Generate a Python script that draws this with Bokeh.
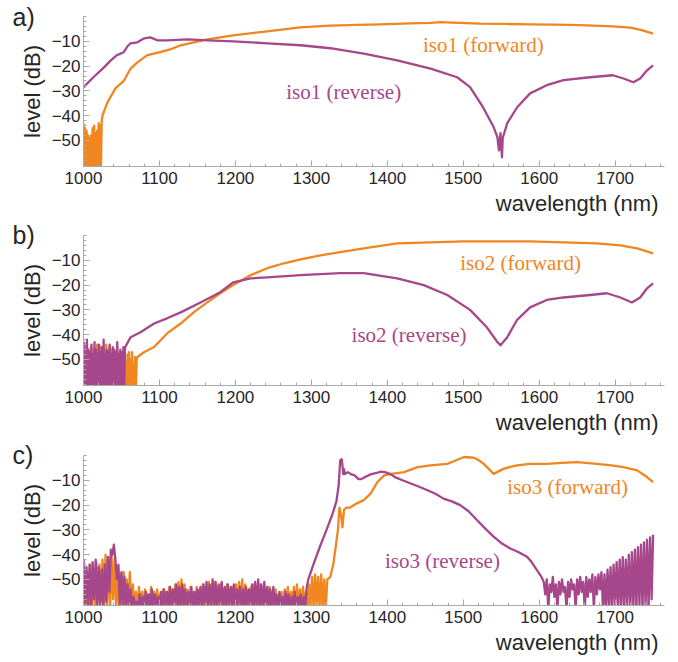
from bokeh.plotting import figure
from bokeh.layouts import column
from bokeh.models import FixedTicker, CustomJSTickFormatter, Label, Range1d, Title
from bokeh.embed import file_html
from bokeh.resources import INLINE

ORANGE = "#EF861F"
PURPLE = "#A6468B"
AXIS_GRAY = "#A9A9A9"
TEXT_DARK = "#262626"

X_TICKS = [1000, 1100, 1200, 1300, 1400, 1500, 1600, 1700]
Y_TICKS = [-50, -40, -30, -20, -10]

# ---------------- iso1 ----------------
iso1_fwd_lam = list(range(1000, 1025)) + [
    1025, 1031, 1042, 1053, 1062, 1071, 1084, 1101, 1114, 1128,
    1145, 1163, 1197, 1242, 1285, 1325, 1360, 1391, 1430, 1457,
    1470, 1495, 1522, 1555, 1588, 1620, 1654, 1697, 1720, 1735, 1750]
iso1_fwd_db = [
    -43, -62, -45, -61, -46, -62, -48, -60, -49, -62,
    -48, -61, -45, -62, -44, -60, -47, -62, -46, -61,
    -43, -62, -44, -60, -42,
    -40, -35, -29, -26, -21, -18.5, -15.6, -14.4, -13.3, -11.6,
    -10.4, -9.2, -7.6, -6, -4.4, -3.7, -3.4, -3.2, -2.8, -2.6,
    -2.3, -2.6, -2.9, -3.0, -3.2, -3.3, -3.5, -4, -4.5, -5.5, -6.9]

iso1_rev_lam = [
    1000, 1013, 1027, 1036, 1044, 1053, 1058, 1062, 1071, 1080,
    1088, 1097, 1110, 1137, 1163, 1197, 1242, 1286, 1325, 1369,
    1413, 1457, 1492, 1509, 1526, 1540, 1545, 1547, 1549, 1551,
    1552, 1558, 1571, 1588, 1610, 1632, 1667, 1697, 1711, 1724,
    1733, 1742, 1750]
iso1_rev_db = [
    -28.5, -24.5, -20.5, -17.7, -15.6, -14.4, -12, -10.8, -10.4, -8.8,
    -8.4, -9.6, -9.6, -9.2, -9.6, -10, -10.8, -11.6, -12.8, -15,
    -17.7, -21, -24.5, -28.5, -36.6, -44.6, -48.7, -54, -47, -56.8,
    -49, -43, -36.6, -31, -27.7, -25.7, -24.5, -23.7, -25, -26.5,
    -25, -21.7, -19.7]

# ---------------- iso2 ----------------
iso2_fwd_lam = list(range(1000, 1071)) + [
    1071, 1080, 1093, 1110, 1128, 1145, 1163, 1180, 1197, 1220,
    1242, 1264, 1286, 1312, 1338, 1369, 1413, 1457, 1500, 1544,
    1588, 1632, 1676, 1707, 1729, 1750]
iso2_fwd_db = [
    -43, -62, -44, -61, -48, -62, -46, -60, -47, -62,
    -45, -61, -48, -62, -46, -60, -47, -62, -44, -61,
    -48, -62, -45, -60, -47, -62, -46, -61, -48, -62,
    -44, -60, -47, -62, -45, -61, -48, -62, -46, -60,
    -47, -62, -48, -61, -46, -62, -49, -60, -47, -62,
    -48, -61, -50, -62, -47, -60, -51, -62, -48, -61,
    -47, -62, -50, -60, -47, -62, -52, -61, -49, -62,
    -50,
    -49, -47, -45, -39.5, -35.5, -31, -27, -23.3, -20, -16,
    -13.2, -11.2, -9.6, -8, -6.7, -5.2, -3.2, -2.8, -2.4, -2.4,
    -2.4, -2.8, -3.2, -4, -5.2, -7.2]

iso2_rev_lam = [l + 0.5 for l in range(1000, 1055)] + [
    1055, 1062, 1075, 1093, 1110, 1128, 1154, 1180, 1197, 1220,
    1242, 1286, 1338, 1369, 1413, 1448, 1479, 1509, 1531, 1545,
    1549, 1558, 1571, 1588, 1610, 1632, 1667, 1689, 1707, 1722,
    1733, 1742, 1750]
iso2_rev_db = [
    -43, -62, -47, -61, -42, -62, -46, -60, -47, -62,
    -44, -61, -48, -62, -43, -60, -46, -62, -48, -61,
    -44, -62, -47, -60, -45, -62, -42, -61, -48, -62,
    -46, -60, -47, -62, -44, -61, -48, -62, -45, -60,
    -46, -62, -47, -61, -43, -62, -48, -60, -46, -62,
    -47, -61, -45, -62, -46,
    -45, -41, -39, -35.5, -33.4, -31, -27, -22.9, -18.9, -17.3,
    -16.9, -16, -15.2, -15.2, -17.3, -20, -24, -30, -37, -43,
    -44.3, -41, -34, -29, -26, -25, -24, -23.3, -25, -27,
    -25, -21.3, -19.3]

# ---------------- iso3 ----------------
iso3_fwd_lam = list(range(1001, 1320, 2)) + [
    1321, 1325, 1329, 1332, 1335, 1337, 1339, 1341, 1343, 1346,
    1351, 1360, 1369, 1378, 1387, 1396, 1405, 1422, 1440, 1457,
    1479, 1490, 1501, 1514, 1520, 1527, 1534, 1540, 1546, 1553,
    1562, 1571, 1588, 1610, 1630, 1650, 1676, 1695, 1711, 1729,
    1742, 1750]
iso3_fwd_db = [
    -45, -61, -47, -62, -44, -60, -46, -62, -43, -61,
    -44, -59, -42, -62, -40, -60, -41, -62, -40, -58,
    -42, -61, -46, -62, -48, -60, -47, -62, -50, -61,
    -47, -62, -52, -60, -55, -62, -53, -61, -55, -62,
    -54, -60, -56, -62, -53, -61, -55, -62, -54, -60,
    -56, -62, -54, -61, -55, -62, -53, -60, -54, -62,
    -52, -61, -51, -62, -50, -60, -52, -62, -54, -61,
    -53, -62, -55, -60, -53, -62, -54, -61, -52, -62,
    -53, -60, -51, -62, -52, -61, -51, -62, -53, -60,
    -52, -62, -54, -61, -52, -62, -54, -60, -53, -62,
    -52, -61, -51, -62, -50, -60, -52, -62, -54, -61,
    -53, -62, -52, -60, -54, -62, -52, -61, -53, -62,
    -54, -60, -53, -62, -55, -61, -54, -62, -56, -60,
    -55, -62, -54, -61, -53, -62, -55, -60, -53, -62,
    -52, -61, -54, -62, -53, -60, -55, -62, -52, -61,
    -49, -62, -48, -60, -49, -62, -48, -61, -50, -62,
    -50, -49, -43.7, -37, -30, -21, -24, -29, -22, -21,
    -21, -19.3, -18, -15.4, -10.7, -8, -7.4, -6.7, -4.7, -4,
    -3.4, -2, -0.6, -0.9, -1.8, -3.4, -5.5, -7.4, -6.5, -5.4,
    -4.6, -4, -3.4, -3.4, -3, -2.7, -3.4, -4, -4.7, -6,
    -8.7, -10.7]

iso3_rev_lam = list(range(1000, 1295, 2)) + [
    1296, 1303, 1311, 1320, 1328, 1333, 1336, 1338, 1340, 1341,
    1342, 1343, 1344, 1348, 1352, 1357, 1362, 1366, 1372, 1379,
    1386, 1392, 1398, 1404, 1410, 1420, 1431, 1442, 1453, 1464,
    1474, 1485, 1496, 1507, 1518, 1529, 1540, 1551, 1562, 1573,
    1584, 1590, 1597, 1603, 1606] + list(range(1608, 1751, 2))
iso3_rev_db = [
    -42, -61, -45, -60, -44, -62, -43, -58, -42, -61,
    -45, -60, -46, -62, -44, -59, -41, -55, -38, -40,
    -36, -42, -50, -44, -61, -47, -60, -49, -62, -52,
    -60, -54, -62, -57, -61, -59, -62, -56, -61, -57,
    -62, -55, -60, -56, -62, -54, -61, -56, -60, -57,
    -62, -55, -61, -54, -60, -55, -62, -53, -61, -54,
    -60, -52, -61, -53, -62, -52, -60, -54, -62, -55,
    -60, -53, -61, -55, -62, -54, -60, -53, -61, -52,
    -60, -51, -61, -52, -60, -50, -61, -51, -62, -52,
    -60, -51, -61, -53, -62, -52, -60, -53, -61, -52,
    -62, -54, -60, -53, -61, -54, -62, -53, -60, -54,
    -61, -52, -62, -51, -60, -50, -61, -52, -62, -51,
    -60, -53, -61, -54, -62, -53, -60, -56, -62, -55,
    -61, -57, -62, -55, -60, -56, -62, -57, -61, -55,
    -62, -57, -60, -56, -62, -57, -61, -53,
    -50, -43.7, -37, -30, -23.5, -18.5, -12, -2, -1.5, -4,
    -7.5, -5.5, -7.5, -6.7, -7.5, -8, -9.5, -9.5, -8.5, -7.5,
    -7, -6.5, -6.8, -7.5, -8.7, -10, -11.3, -12.6, -14, -15.5,
    -17.4, -18.5, -20, -22.5, -26, -29.5, -32.7, -35.5, -37.5, -39,
    -40.8, -43, -46.2, -49, -51,
    -56, -50, -62, -52, -55, -49, -57, -52, -62, -51,
    -56, -50, -55, -53, -62, -51, -57, -50, -54, -52,
    -62, -50, -56, -49, -55, -51, -62, -49, -57, -50,
    -55, -48, -62, -49, -56, -48, -54, -47, -62, -48,
    -62, -46, -61, -45, -62, -44, -60, -43, -62, -42,
    -61, -41, -62, -42, -60, -40, -62, -39, -61, -38,
    -62, -37, -60, -36, -62, -35, -61, -34, -62, -33,
    -58, -32]

for a, b in [(iso1_fwd_lam, iso1_fwd_db), (iso1_rev_lam, iso1_rev_db),
             (iso2_fwd_lam, iso2_fwd_db), (iso2_rev_lam, iso2_rev_db),
             (iso3_fwd_lam, iso3_fwd_db), (iso3_rev_lam, iso3_rev_db)]:
    assert len(a) == len(b), (len(a), len(b))

minus_fmt = "return tick < 0 ? '\u2212' + Math.abs(tick) : String(tick);"


def panel(tag, tag_standoff, top, bottom, fwd, rev, fwd_txt, fwd_xy, rev_txt, rev_xy):
    p = figure(frame_width=581, frame_height=150,
               x_range=Range1d(1000, 1765), y_range=Range1d(-60.5, 0),
               min_border_left=83, min_border_right=14,
               min_border_top=top, min_border_bottom=bottom,
               output_backend="svg", toolbar_location=None)
    p.grid.visible = False
    p.outline_line_color = None
    p.background_fill_color = "white"
    p.border_fill_color = "white"

    # panel tag in the upper-left corner
    p.title.text = tag
    p.title.align = "left"
    p.title.offset = -71
    p.title.vertical_align = "bottom"
    p.title.standoff = tag_standoff
    p.title.text_font = "Liberation Sans"
    p.title.text_font_size = "25px"
    p.title.text_font_style = "normal"
    p.title.text_color = TEXT_DARK

    p.xaxis.ticker = FixedTicker(ticks=X_TICKS, minor_ticks=list(range(1000, 1761, 20)))
    p.yaxis.ticker = FixedTicker(ticks=Y_TICKS, minor_ticks=list(range(-60, 1, 2)))
    p.yaxis.formatter = CustomJSTickFormatter(code=minus_fmt)
    for ax in (p.xaxis, p.yaxis):
        ax.axis_line_color = AXIS_GRAY
        ax.major_tick_line_color = AXIS_GRAY
        ax.minor_tick_line_color = AXIS_GRAY
        ax.major_tick_in = 6
        ax.major_tick_out = 0
        ax.minor_tick_in = 3
        ax.minor_tick_out = 0
        ax.major_label_text_font = "Liberation Sans"
        ax.major_label_text_font_size = "17px"
        ax.major_label_text_color = TEXT_DARK
    p.xaxis.major_label_standoff = 5
    p.yaxis.major_label_standoff = 3
    p.yaxis.axis_label = "level (dB)"
    p.yaxis.axis_label_text_font = "Liberation Sans"
    p.yaxis.axis_label_text_font_size = "22px"
    p.yaxis.axis_label_text_font_style = "normal"
    p.yaxis.axis_label_text_color = TEXT_DARK
    p.yaxis.axis_label_standoff = 4

    # x-axis caption, right-aligned under the axis
    p.add_layout(Title(text="wavelength (nm)", align="right", offset=6,
                       vertical_align="bottom", standoff=5,
                       text_font="Liberation Sans", text_font_size="22px",
                       text_font_style="normal", text_color=TEXT_DARK), "below")

    p.line(fwd[0], fwd[1], line_color=ORANGE, line_width=2.3, line_join="round")
    p.line(rev[0], rev[1], line_color=PURPLE, line_width=2.3, line_join="round")

    p.add_layout(Label(x=fwd_xy[0], y=fwd_xy[1], text=fwd_txt, text_color=ORANGE,
                       text_font="Liberation Serif", text_font_size="21px",
                       text_baseline="middle", text_align="left"))
    p.add_layout(Label(x=rev_xy[0], y=rev_xy[1], text=rev_txt, text_color=PURPLE,
                       text_font="Liberation Serif", text_font_size="21px",
                       text_baseline="middle", text_align="left"))
    return p


pa = panel("a)", -28, 16, 56, (iso1_fwd_lam, iso1_fwd_db), (iso1_rev_lam, iso1_rev_db),
           "iso1 (forward)", (1447, -11.6), "iso1 (reverse)", (1267, -30.6))
pb = panel("b)", -26, 13, 57, (iso2_fwd_lam, iso2_fwd_db), (iso2_rev_lam, iso2_rev_db),
           "iso2 (forward)", (1496, -11.2), "iso2 (reverse)", (1353, -40.3))
pc = panel("c)", -26, 13, 57, (iso3_fwd_lam, iso3_fwd_db), (iso3_rev_lam, iso3_rev_db),
           "iso3 (forward)", (1558, -12.8), "iso3 (reverse)", (1397, -42.7))

layout = column(pa, pb, pc, spacing=0)
open("out.html", "w").write(file_html(layout, INLINE))
